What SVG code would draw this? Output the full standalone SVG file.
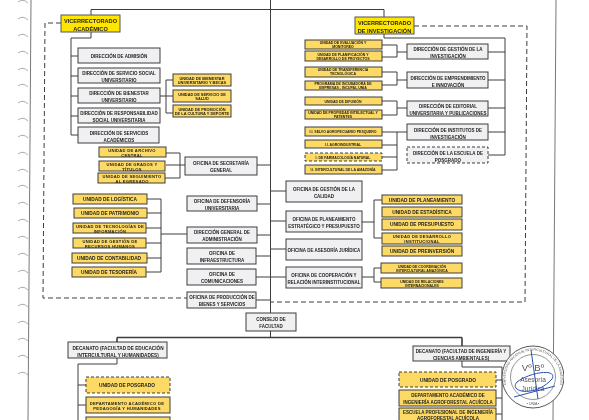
<svg xmlns="http://www.w3.org/2000/svg" width="589" height="420" viewBox="0 0 589 420">
<style>
text{font-family:"Liberation Sans",Arial,sans-serif;font-weight:bold;fill:#222;text-anchor:middle}
.g rect{fill:#f0f0f2;stroke:#3c3c3c;stroke-width:1}
.y rect{fill:#fdd965;stroke:#3c3c3c;stroke-width:1}
.v rect{fill:#ffe600;stroke:#555;stroke-width:1}
.d rect{stroke-dasharray:3 2}
.g text{font-size:4.5px}
.y text{font-size:4.8px}
.y.two text{font-size:4.1px;letter-spacing:.3px}
.y.s text{font-size:3.9px}
.y.r text{font-size:3.5px}
.y.m text{font-size:4.5px}
.g.w text{font-size:4.7px}
.v text{font-size:5.6px}
.c path{fill:none;stroke:#3c3c3c;stroke-width:1}
.dash{fill:none;stroke:#555;stroke-width:1;stroke-dasharray:5 3}
.e path{fill:none;stroke:#aaa;stroke-width:1}
.st{font-weight:normal;fill:#555}
</style>
<defs><filter id="scan" x="0" y="0" width="100%" height="100%"><feGaussianBlur stdDeviation="0.3"/></filter></defs>
<rect width="589" height="420" fill="#fff"/>
<g filter="url(#scan)">
<g class="e" id="binding">
<path d="M18 2q5-4 10 1M18 19q5-4 10 1M18 36q5-4 10 1M18 53q5-4 10 1M18 70q5-4 10 1M18 86q5-4 10 1M18 103q5-4 10 1M18 120q5-4 10 1M18 137q5-4 10 1M18 154q5-4 10 1M18 171q5-4 10 1M18 187q5-4 10 1M18 204q5-4 10 1M18 221q5-4 10 1M18 238q5-4 10 1M18 255q5-4 10 1M18 272q5-4 10 1M18 289q5-4 10 1M18 306q5-4 10 1M18 323q5-4 10 1M18 340q5-4 10 1M18 357q5-4 10 1M18 374q5-4 10 1"/>
</g>
<g class="c" id="connectors">
<path d="M31 0L28 420M556 0L553 420" style="stroke:#777"/>
<path d="M270.500 0V337M91 15V9.500H384V17M91 32V38H71V135M71 56H78M71 76H78M71 96H78M71 116H78M71 135H78"/>
<path d="M160 96H166M166 80V113M166 80H173M166 96H173M166 113H173"/>
<path d="M384 34V38H505V155M505 52H488M505 80H488M505 108H488M505 132H488M505 155H488"/>
<path d="M382 45H397M382 57H397M397 45V57M397 52H407M382 72H397M382 85H397M397 72V85M397 80H407M382 101H397M382 115H397M397 101V115M397 108H407M382 132H397M382 145H397M382 157H397M382 170H397M397 132V170M397 132H407"/>
<path d="M166 153H180M180 153V178M166 165H185M165 178H180"/>
<path d="M147 199H161V272M147 213H161M146 228H161M146 243H161M147 258H161M146 272H161M161 234H187"/>
<path d="M257 165H271M257 204H271M257 235H271M256 256H271M256 277H271M256 300H271"/>
<path d="M271 191H286M271 221H286M271 249H286M271 277H286"/>
<path d="M362 222H374M374 200V238M374 200H382M374 238H382M362 277H374M374 268V282M374 268H381M374 282H381"/>
<path d="M117 337.500H462M117 337.500V342M462 337.500V346" style="stroke-width:1.6"/>
<path d="M117 358V364H78V420M78 385H86M78 405H86M462 361V367H502V420M502 380H496M502 398H496M502 414H496"/>
<path class="dash" d="M61 23H45L43 298H187M414 26H527L525 302H271"/>
</g>
<g class="v" id="vr-academico"><rect x="61" y="15" width="59" height="17"/><text x="90.500" y="23">VICERRECTORADO</text><text x="90.500" y="31">ACADÉMICO</text></g>
<g class="v" id="vr-investigacion"><rect x="355" y="17" width="59" height="17"/><text x="384.500" y="25">VICERRECTORADO</text><text x="384.500" y="32.500">DE INVESTIGACIÓN</text></g>
<g class="g" id="d-admision"><rect x="78" y="48" width="82" height="15"/><text x="119" y="58">DIRECCIÓN DE ADMISIÓN</text></g>
<g class="g" id="d-social"><rect x="78" y="68" width="82" height="15"/><text x="119" y="74.500">DIRECCIÓN DE SERVICIO SOCIAL</text><text x="119" y="81.500">UNIVERSITARIO</text></g>
<g class="g" id="d-bienestar"><rect x="78" y="88" width="82" height="15"/><text x="119" y="94.500">DIRECCIÓN DE BIENESTAR</text><text x="119" y="101.500">UNIVERSITARIO</text></g>
<g class="g" id="d-rsu"><rect x="78" y="108" width="82" height="15"/><text x="119" y="114.500">DIRECCIÓN DE RESPONSABILIDAD</text><text x="119" y="121.500">SOCIAL UNIVERSITARIA</text></g>
<g class="g" id="d-academicos"><rect x="78" y="127" width="81" height="16"/><text x="119" y="134.500">DIRECCIÓN DE SERVICIOS</text><text x="119" y="141.500">ACADÉMICOS</text></g>
<g class="y s" id="u-becas"><rect x="173" y="74" width="58" height="12"/><text x="202" y="79.500">UNIDAD DE BIENESTAR</text><text x="202" y="84">UNIVERSITARIO Y BECAS</text></g>
<g class="y s" id="u-salud"><rect x="173" y="90" width="58" height="12"/><text x="202" y="95.500">UNIDAD DE SERVICIO DE</text><text x="202" y="100">SALUD</text></g>
<g class="y s" id="u-promocion"><rect x="173" y="105" width="58" height="12"/><text x="202" y="110.500">UNIDAD DE PROMOCIÓN</text><text x="202" y="115">DE LA CULTURA Y DEPORTE</text></g>
<g class="y two" id="u-archivo"><rect x="99" y="147" width="67" height="10"/><text x="132" y="152">UNIDAD DE ARCHIVO</text><text x="132" y="156.500">CENTRAL</text></g>
<g class="y two" id="u-grados"><rect x="99" y="161" width="66" height="10"/><text x="132" y="166">UNIDAD DE GRADOS Y</text><text x="132" y="170.500">TÍTULOS</text></g>
<g class="y two" id="u-seguimiento"><rect x="98" y="173" width="67" height="10"/><text x="132" y="178">UNIDAD DE SEGUIMIENTO</text><text x="132" y="182.500">AL EGRESADO</text></g>
<g class="g" id="o-secretaria"><rect x="185" y="157" width="72" height="18"/><text x="221" y="165">OFICINA DE SECRETARÍA</text><text x="221" y="171.500">GENERAL</text></g>
<g class="y" id="u-logistica"><rect x="73" y="194" width="74" height="10"/><text x="110" y="201">UNIDAD DE LOGÍSTICA</text></g>
<g class="y" id="u-patrimonio"><rect x="74" y="208" width="73" height="10"/><text x="110" y="215">UNIDAD DE PATRIMONIO</text></g>
<g class="y two" id="u-tecnologias"><rect x="73" y="223" width="73" height="10"/><text x="110" y="228">UNIDAD DE TECNOLOGÍAS DE</text><text x="110" y="232.500">INFORMACIÓN</text></g>
<g class="y two" id="u-rrhh"><rect x="73" y="238" width="73" height="10"/><text x="110" y="243">UNIDAD DE GESTIÓN DE</text><text x="110" y="247.500">RECURSOS HUMANOS</text></g>
<g class="y" id="u-contabilidad"><rect x="72" y="253" width="75" height="10"/><text x="109" y="260">UNIDAD DE CONTABILIDAD</text></g>
<g class="y" id="u-tesoreria"><rect x="72" y="267" width="74" height="10"/><text x="109" y="274">UNIDAD DE TESORERÍA</text></g>
<g class="g" id="o-defensoria"><rect x="187" y="196" width="70" height="15"/><text x="222" y="203">OFICINA DE DEFENSORÍA</text><text x="222" y="209.500">UNIVERSITARIA</text></g>
<g class="g" id="d-administracion"><rect x="187" y="227" width="70" height="16"/><text x="222" y="234">DIRECCIÓN GENERAL DE</text><text x="222" y="240.500">ADMINISTRACIÓN</text></g>
<g class="g" id="o-infra"><rect x="187" y="248" width="69" height="16"/><text x="222" y="255">OFICINA DE</text><text x="222" y="262">INFRAESTRUCTURA</text></g>
<g class="g" id="o-com"><rect x="187" y="269" width="69" height="16"/><text x="222" y="276">OFICINA DE</text><text x="222" y="283">COMUNICACIONES</text></g>
<g class="g" id="o-produccion"><rect x="187" y="292" width="69" height="16"/><text x="222" y="299">OFICINA DE PRODUCCIÓN DE</text><text x="222" y="306">BIENES Y SERVICIOS</text></g>
<g class="y r" id="u-evaluacion"><rect x="305" y="40" width="77" height="9"/><text x="343" y="44">UNIDAD DE EVALUACIÓN Y</text><text x="343" y="48">MONITOREO</text></g>
<g class="y r" id="u-planificacion"><rect x="305" y="51" width="77" height="10"/><text x="343" y="55.500">UNIDAD DE PLANIFICACIÓN Y</text><text x="343" y="59.500">DESARROLLO DE PROYECTOS</text></g>
<g class="y r" id="u-transferencia"><rect x="305" y="67" width="77" height="10"/><text x="343" y="71">UNIDAD DE TRANSFERENCIA</text><text x="343" y="75">TECNOLÓGICA</text></g>
<g class="y r" id="p-incubadora"><rect x="305" y="81" width="77" height="9"/><text x="343" y="85">PROGRAMA DE INCUBADORA DE</text><text x="343" y="89">EMPRESAS - INCUPAL UNIA</text></g>
<g class="y r" id="u-difusion"><rect x="305" y="97" width="77" height="8"/><text x="343" y="102.500">UNIDAD DE DIFUSIÓN</text></g>
<g class="y r" id="u-propiedad"><rect x="305" y="110" width="77" height="9"/><text x="343" y="114">UNIDAD DE PROPIEDAD INTELECTUAL Y</text><text x="343" y="118">PATENTES</text></g>
<g class="y r" id="ii-selvo"><rect x="305" y="127" width="77" height="9"/><text x="343" y="133">I.I. SELVO AGROPECUARIO PESQUERO</text></g>
<g class="y r" id="ii-agro"><rect x="305" y="140" width="77" height="8"/><text x="343" y="145.500">I.I. AGROINDUSTRIAL</text></g>
<g class="y r d" id="i-farma"><rect x="305" y="153" width="77" height="8"/><text x="343" y="158.500">I. DE FARMACOLOGÍA NATURAL</text></g>
<g class="y r" id="ii-intercultural"><rect x="305" y="165" width="77" height="9"/><text x="343" y="171">I.I. INTERCULTURAL DE LA AMAZONÍA</text></g>
<g class="g" id="d-gestion"><rect x="407" y="44" width="81" height="15"/><text x="448" y="50.500">DIRECCIÓN DE GESTIÓN DE LA</text><text x="448" y="57.500">INVESTIGACIÓN</text></g>
<g class="g" id="d-emprendimiento"><rect x="407" y="72" width="81" height="16"/><text x="448" y="79.500">DIRECCIÓN DE EMPRENDIMIENTO</text><text x="448" y="86.500">E INNOVACIÓN</text></g>
<g class="g" id="d-editorial"><rect x="407" y="101" width="81" height="15"/><text x="448" y="107.500">DIRECCIÓN DE EDITORIAL</text><text x="448" y="114.500">UNIVERSITARIA Y PUBLICACIONES</text></g>
<g class="g" id="d-institutos"><rect x="407" y="124" width="81" height="16"/><text x="448" y="131.500">DIRECCIÓN DE INSTITUTOS DE</text><text x="448" y="138.500">INVESTIGACIÓN</text></g>
<g class="g d" id="d-posgrado"><rect x="407" y="147" width="81" height="16"/><text x="448" y="154.500">DIRECCIÓN DE LA ESCUELA DE</text><text x="448" y="161.500">POSGRADO</text></g>
<g class="g" id="o-calidad"><rect x="286" y="181" width="76" height="21"/><text x="324" y="191">OFICINA DE GESTIÓN DE LA</text><text x="324" y="198">CALIDAD</text></g>
<g class="g" id="o-planeamiento"><rect x="286" y="211" width="76" height="21"/><text x="324" y="221">OFICINA DE PLANEAMIENTO</text><text x="324" y="228">ESTRATÉGICO Y PRESUPUESTO</text></g>
<g class="g" id="o-asesoria"><rect x="286" y="239" width="76" height="21"/><text x="324" y="252">OFICINA DE ASESORÍA JURÍDICA</text></g>
<g class="g" id="o-cooperacion"><rect x="286" y="267" width="76" height="21"/><text x="324" y="277">OFICINA DE COOPERACIÓN Y</text><text x="324" y="284">RELACIÓN INTERINSTITUCIONAL</text></g>
<g class="y" id="u-planeamiento"><rect x="382" y="195" width="80" height="9"/><text x="422" y="201.500">UNIDAD DE PLANEAMIENTO</text></g>
<g class="y" id="u-estadistica"><rect x="382" y="207" width="80" height="10"/><text x="422" y="214">UNIDAD DE ESTADÍSTICA</text></g>
<g class="y" id="u-presupuesto"><rect x="382" y="219" width="80" height="11"/><text x="422" y="226">UNIDAD DE PRESUPUESTO</text></g>
<g class="y two" id="u-desarrollo"><rect x="382" y="233" width="80" height="11"/><text x="422" y="238">UNIDAD DE DESARROLLO</text><text x="422" y="242.500">INSTITUCIONAL</text></g>
<g class="y" id="u-preinversion"><rect x="382" y="246" width="80" height="10"/><text x="422" y="253">UNIDAD DE PREINVERSIÓN</text></g>
<g class="y r" id="u-coordinacion"><rect x="381" y="263" width="81" height="10"/><text x="422" y="268">UNIDAD DE COORDINACIÓN</text><text x="422" y="272">INTERCULTURAL AMAZÓNICA</text></g>
<g class="y r" id="u-relaciones"><rect x="381" y="278" width="81" height="10"/><text x="422" y="283">UNIDAD DE RELACIONES</text><text x="422" y="287">INTERNACIONALES</text></g>
<g class="g" id="consejo"><rect x="246" y="313" width="50" height="18"/><text x="271" y="321">CONSEJO DE</text><text x="271" y="328">FACULTAD</text></g>
<g class="g w" id="decanato-edu"><rect x="68" y="342" width="99" height="16"/><text x="118" y="349.500">DECANATO (FACULTAD DE EDUCACIÓN</text><text x="118" y="356.500">INTERCULTURAL Y HUMANIDADES)</text></g>
<g class="g" id="decanato-ing"><rect x="413" y="346" width="97" height="15"/><text x="461" y="352.500">DECANATO (FACULTAD DE INGENIERÍA Y</text><text x="461" y="359.500">CIENCIAS AMBIENTALES)</text></g>
<g class="y d" id="posgrado-edu"><rect x="86" y="377" width="84" height="16"/><text x="127" y="387">UNIDAD DE POSGRADO</text></g>
<g class="y two" id="depto-edu"><rect x="86" y="397" width="84" height="16"/><text x="127" y="405">DEPARTAMENTO ACADÉMICO DE</text><text x="127" y="409.500">PEDAGOGÍA Y HUMANIDADES</text></g>
<g class="y" id="esc-edu"><rect x="86" y="417" width="84" height="6"/></g>
<g class="y d" id="posgrado-ing"><rect x="399" y="372" width="97" height="15"/><text x="448" y="381.500">UNIDAD DE POSGRADO</text></g>
<g class="y m" id="depto-ing"><rect x="399" y="390" width="97" height="16"/><text x="448" y="397">DEPARTAMENTO ACADÉMICO DE</text><text x="448" y="404">INGENIERÍA AGROFORESTAL ACUÍCOLA</text></g>
<g class="y m" id="esc-ing"><rect x="399" y="408" width="97" height="16"/><text x="448" y="414">ESCUELA PROFESIONAL DE INGENIERÍA</text><text x="448" y="419.500">AGROFORESTAL ACUÍCOLA</text></g>
<g id="stamp" fill="none">
<circle cx="533" cy="377" r="31" fill="#fff" stroke="#555" stroke-width="1"/>
<circle cx="533" cy="377" r="22.500" stroke="#666" stroke-width=".7"/>
<path id="stampArc" d="M513 397A27.500 27.500 0 1 1 553 397" stroke="none"/>
<text class="st" style="font-size:3.400px"><textPath href="#stampArc" startOffset="50%">UNIVERSIDAD NACIONAL INTERCULTURAL DE LA AMAZONÍA</textPath></text>
<text class="st" x="533" y="371" style="font-size:9.500px">Vº Bº</text>
<text class="st" x="533" y="382" style="font-size:6.500px">Asesoría</text>
<text class="st" x="533" y="391" style="font-size:6.500px">Jurídica</text>
<text class="st" x="533" y="405" style="font-size:3.500px">• UNIA •</text>
<path d="M531 350L538 399M552 379C558 368 530 372 517 382C508 392 535 398 552 379M514 397L555 386" stroke="#2b4fb5" stroke-width="1"/>
</g>
</g>
</svg>
